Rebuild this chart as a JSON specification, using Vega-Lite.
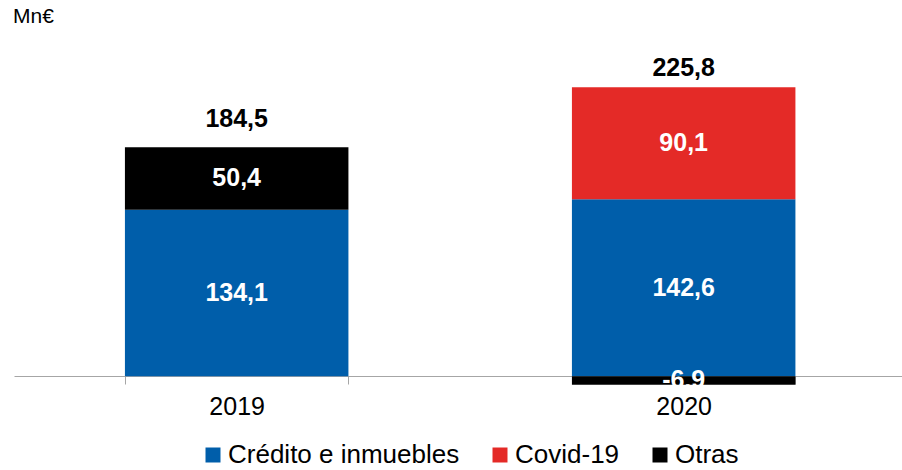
{
  "$schema": "https://vega.github.io/schema/vega-lite/v6.json",
  "width": 888,
  "height": 360,
  "autosize": {"type": "none"},
  "padding": {"left": 14, "top": 41, "right": 0, "bottom": 69},
  "config": {
    "font": "Liberation Sans",
    "view": {"stroke": null},
    "locale": {"number": {"decimal": ",", "thousands": ".", "grouping": [3], "currency": ["", " €"], "minus": "-"}}
  },
  "title": {"text": "Mn€", "anchor": "start", "fontSize": 21, "fontWeight": "normal", "font": "Liberation Sans", "color": "#000000", "offset": 14, "dx": -1},
  "datasets": {
    "parts": [
      {"year": "2019", "serie": "Crédito e inmuebles", "value": 134.1},
      {"year": "2019", "serie": "Otras", "value": 50.4},
      {"year": "2020", "serie": "Crédito e inmuebles", "value": 142.6},
      {"year": "2020", "serie": "Covid-19", "value": 90.1},
      {"year": "2020", "serie": "Otras", "value": -6.9}
    ],
    "totals": [
      {"year": "2019", "total": 184.5},
      {"year": "2020", "total": 225.8}
    ]
  },
  "layer": [
    {
      "data": {"name": "parts"},
      "transform": [
        {"stack": "value", "groupby": ["year"], "sort": [{"field": "value", "order": "descending"}], "as": ["y0", "y1"]},
        {"calculate": "(datum.y0 + datum.y1) / 2", "as": "mid"}
      ],
      "layer": [
        {
          "mark": {"type": "bar"},
          "encoding": {
            "x": {
              "field": "year", "type": "ordinal",
              "scale": {"paddingInner": 0.5, "paddingOuter": 0.2433, "align": 0.51},
              "axis": {
                "title": null, "labelAngle": 0, "labelFontSize": 25, "labelColor": "#000000",
                "labelPadding": 10, "tickBand": "extent", "tickSize": 8,
                "domainColor": "#a6a6a6", "tickColor": "#a6a6a6", "offset": -25
              }
            },
            "y": {"field": "y0", "type": "quantitative", "scale": {"domain": [-20, 270], "nice": false, "zero": false}, "axis": null},
            "y2": {"field": "y1"},
            "color": {
              "field": "serie", "type": "nominal",
              "scale": {"domain": ["Crédito e inmuebles", "Covid-19", "Otras"], "range": ["#005EAA", "#E42A27", "#000000"]},
              "legend": {
                "title": null, "orient": "none", "direction": "horizontal",
                "legendX": 186, "legendY": 401,
                "symbolType": "square", "symbolSize": 225, "symbolStrokeWidth": 0,
                "labelFontSize": 26, "labelColor": "#000000", "labelOffset": 2,
                "columnPadding": 27, "padding": 0, "labelLimit": 400
              }
            }
          }
        },
        {
          "mark": {"type": "text", "fontSize": 25, "fontWeight": "bold", "color": "#ffffff", "baseline": "middle", "align": "center"},
          "encoding": {
            "x": {"field": "year", "type": "ordinal"},
            "y": {"field": "mid", "type": "quantitative"},
            "text": {"field": "value", "type": "quantitative", "format": ".1f"}
          }
        }
      ]
    },
    {
      "data": {"name": "totals"},
      "mark": {"type": "text", "fontSize": 25, "fontWeight": "bold", "color": "#000000", "baseline": "middle", "align": "center", "dy": -28},
      "encoding": {
        "x": {"field": "year", "type": "ordinal"},
        "y": {"field": "total", "type": "quantitative"},
        "text": {"field": "total", "type": "quantitative", "format": ".1f"}
      }
    }
  ]
}
